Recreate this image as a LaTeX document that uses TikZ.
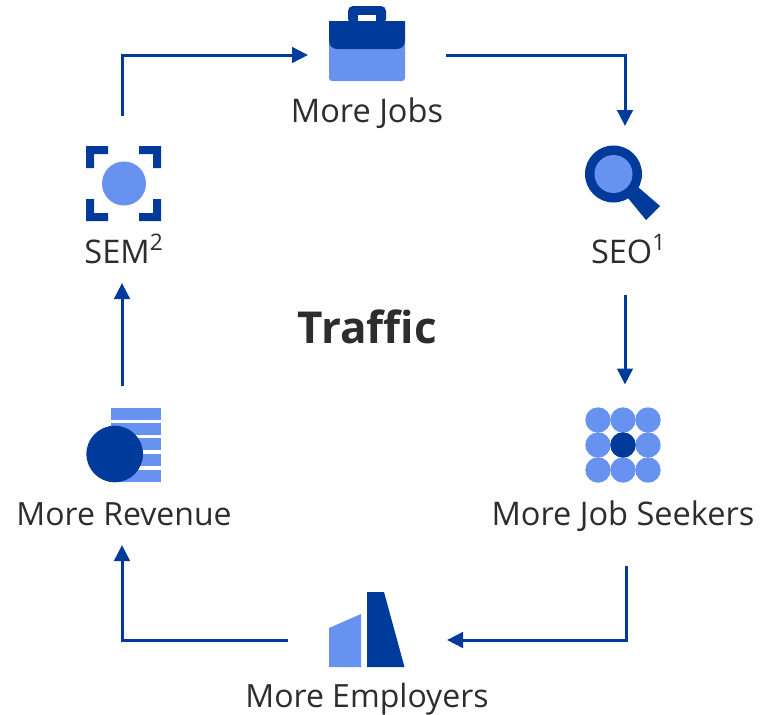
\documentclass[tikz,border=0pt]{standalone}
\usepackage{fontspec}
\setmainfont{Open Sans}
\usetikzlibrary{arrows.meta}
\definecolor{deep}{HTML}{003A9B}
\definecolor{soft}{HTML}{6792F0}
\definecolor{ink}{HTML}{2D2D2D}
\newcommand{\pxu}{0.75pt}
\tikzset{
  x=\pxu, y=-\pxu,
  slot/.style={minimum width=#1*\pxu, inner sep=0pt, outer sep=0pt},
  lab/.style={text=ink, font=\fontsize{24.4pt}{28pt}\selectfont, inner sep=0pt, anchor=base},
  labtight/.style={lab, font=\fontsize{24pt}{28pt}\selectfont},
  conn/.style={draw=deep, line width=3*\pxu, -{Triangle[length=16*\pxu,width=15.5*\pxu]}},
  softfill/.style={fill=soft, draw=none},
  deepfill/.style={fill=deep, draw=none}
}
\begin{document}
\begin{tikzpicture}
\useasboundingbox (0,0) rectangle (769,715);
% anchor boxes for the icons
\node[slot=76, minimum height=98*\pxu] (jobs) at (367,55) {};
\node[slot=76, minimum height=75*\pxu] (sem) at (122,183.5) {};
\node[slot=80, minimum height=74*\pxu] (seo) at (625,183) {};
\node[slot=76, minimum height=74*\pxu] (rev) at (122,445) {};
\node[slot=76, minimum height=75*\pxu] (seek) at (626,445) {};
\node[slot=76, minimum height=54*\pxu] (emp) at (367,640) {};
% briefcase
\fill[deepfill, rounded corners=5*\pxu] (348,24) -- (348,6) -- (386,6) -- (386,24) -- cycle;
\fill[fill=white] (358,15) rectangle (376,22);
\fill[softfill, rounded corners=3*\pxu] (329,40) rectangle (405,81);
\fill[deepfill] (329,21) -- (405,21) -- (405,41) arc[start angle=0,end angle=90,radius=8] -- (337,49) arc[start angle=90,end angle=180,radius=8] -- cycle;
% SEM
\foreach \sx/\sy/\cx/\cy in {1/1/86/146, -1/1/161/146, 1/-1/86/221, -1/-1/161/221}{
  \fill[deepfill] (\cx,\cy) -- ++(\sx*22,0) -- ++(0,\sy*8) -- ++(-\sx*14,0) -- ++(0,\sy*14) -- ++(-\sx*8,0) -- cycle;
}
\fill[softfill] (124,183.5) circle[radius=22*\pxu];
% SEO
\fill[deepfill] (628,198) -- (638,187) -- (660,206) -- (646,220) -- cycle;
\fill[deepfill] (613.5,174) circle[radius=28.5*\pxu];
\fill[softfill] (613.5,174) circle[radius=19*\pxu];
% revenue
\foreach \ya/\yb in {408/419.5, 423/434.5, 438/450, 453.5/465.5, 469.5/482}{
  \fill[softfill] (111,\ya) rectangle (161,\yb);
}
\fill[deepfill] (114.7,454) circle[radius=28.3*\pxu];
% job seekers
\foreach \cxx in {598,623,648}{\foreach \cyy in {420,445,470}{
  \fill[softfill] (\cxx,\cyy) circle[radius=12.7*\pxu];
}}
\fill[deepfill] (623,445) circle[radius=12.7*\pxu];
% employers
\fill[softfill] (329,628) -- (361,614) -- (361,667) -- (329,667) -- cycle;
\fill[deepfill] (367,592) -- (384,592) -- (404.5,667) -- (367,667) -- cycle;
% labels
\node[lab] (ljobs) at (367,122) {More Jobs};
\node[lab] (lsem) at (124,263) {SEM\textsuperscript{2}};
\node[lab] (lseo) at (628.5,263) {SEO\textsuperscript{1}};
\node[labtight] (lrev) at (124,525) {More Revenue};
\node[lab] (lseek) at (623,525) {More Job Seekers};
\node[labtight] (lemp) at (367,707) {More Employers};
\node[text=ink, font=\fontsize{33pt}{38pt}\selectfont\bfseries, inner sep=0pt, anchor=base] (title) at (367.5,343) {Traffic};
% connectors
\draw[conn, shorten <=30*\pxu, shorten >=21*\pxu] (sem.north) |- (jobs.west);
\draw[conn, shorten <=41*\pxu, shorten >=20*\pxu] (jobs.east) -| (seo.north);
\draw[conn, shorten <=75*\pxu, shorten >=23*\pxu] (seo.south) -- (seek.north -| seo.south);
\draw[conn, shorten <=83*\pxu, shorten >=42*\pxu] (seek.south) |- (emp.east);
\draw[conn, shorten <=41*\pxu, shorten >=63*\pxu] (emp.west) -| (rev.south);
\draw[conn, shorten <=22*\pxu, shorten >=62*\pxu] (rev.north) -- (sem.south);
\end{tikzpicture}
\end{document}
